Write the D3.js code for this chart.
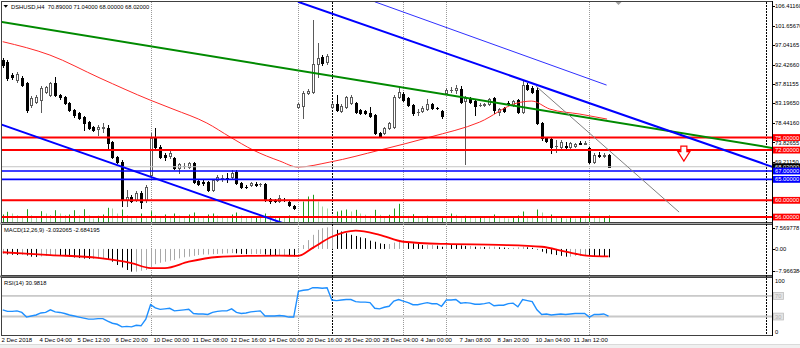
<!DOCTYPE html>
<html><head><meta charset="utf-8">
<script src="https://cdn.jsdelivr.net/npm/d3@7"></script>
<style>
html,body{margin:0;padding:0;background:#fff;overflow:hidden;}
svg{display:block;font-family:"Liberation Sans",Arial,sans-serif;}
</style></head><body>
<svg id="chart" width="800" height="348"></svg>
<script>
// ---------------- DATA ----------------
const symbolTitle = "DSHUSD,H4  70.89000 71.04000 68.00000 68.02000";
const macdTitle = "MACD(12,26,9) -3.032065 -2.684195";
const rsiTitle = "RSI(14) 30.9818";

const opens = [93.51,93.03,89.92,88.73,89.20,88.01,82.76,83.47,83.95,85.86,85.14,88.01,85.14,84.67,83.23,81.56,80.84,79.89,78.69,77.50,77.02,77.38,77.26,73.92,70.33,69.14,60.06,60.78,60.06,61.73,60.06,66.03,75.11,72.72,70.81,70.57,70.09,67.70,68.18,67.94,68.90,64.60,64.36,64.36,62.45,64.84,65.32,65.32,65.55,66.75,64.12,63.29,63.64,63.88,63.88,63.88,60.30,60.06,59.82,60.18,59.58,58.63,82.28,82.52,85.62,85.86,92.55,94.22,93.03,82.28,82.99,81.32,82.28,83.23,83.23,81.56,81.32,80.84,80.37,76.07,76.07,77.26,77.50,84.67,85.38,84.43,82.76,81.08,81.32,81.80,82.99,82.16,81.32,85.62,86.34,86.34,86.58,83.71,84.19,83.71,82.76,82.88,82.99,84.43,81.08,82.04,83.23,82.76,83.95,81.08,87.53,86.82,86.34,78.46,74.87,74.63,72.96,72.72,72.96,72.72,72.96,73.68,73.56,72.48,69.14,70.81,70.69,70.89];
const highs = [93.98,93.51,90.40,90.64,89.68,88.25,84.91,85.14,87.29,87.29,88.25,89.44,85.38,84.91,83.47,81.80,81.08,80.13,78.93,77.74,77.98,78.46,77.98,74.16,70.57,69.62,62.45,61.26,62.21,62.21,63.64,76.07,77.26,73.20,71.29,72.01,70.33,68.90,68.90,69.14,69.14,64.84,64.84,64.60,65.08,66.03,66.03,66.51,67.23,67.23,64.36,63.64,64.36,64.36,64.24,64.12,60.54,60.30,61.26,60.54,60.06,58.87,83.23,86.10,86.58,103.06,97.57,94.70,94.94,83.23,85.14,82.99,84.91,85.14,83.47,81.80,81.56,82.28,80.60,76.30,77.50,78.69,85.14,87.29,85.86,84.67,82.99,81.80,82.52,84.19,83.23,82.28,81.56,86.82,87.06,87.53,87.29,84.91,84.67,83.95,83.23,83.23,84.43,84.67,82.04,82.28,83.71,83.95,84.19,88.73,88.01,87.29,87.06,78.69,75.11,74.87,74.39,74.39,73.92,73.92,73.68,74.16,74.16,72.72,71.29,71.53,71.29,71.04];
const lows = [91.83,88.73,88.97,88.25,87.29,81.08,82.28,83.23,81.08,85.62,84.91,84.91,84.19,82.99,81.32,79.89,79.41,76.78,77.02,76.54,75.59,76.30,72.48,70.09,68.90,58.63,58.63,59.58,59.82,58.15,59.58,65.55,72.48,70.09,69.62,70.09,67.46,66.51,67.70,67.70,64.12,63.64,63.64,62.21,62.21,64.60,64.60,64.36,65.32,63.88,62.93,62.93,63.40,63.40,63.52,59.82,59.35,59.58,59.58,59.82,58.63,57.91,82.04,79.65,85.38,85.62,89.44,92.31,92.55,82.04,81.32,81.08,82.04,82.99,80.84,80.60,80.60,79.89,75.83,75.11,75.83,77.02,77.26,84.43,83.71,82.52,80.37,80.37,81.08,81.56,81.80,81.92,79.65,85.38,85.86,85.62,83.23,68.66,83.23,80.37,82.52,82.64,82.76,80.84,80.37,81.08,82.76,82.52,80.84,80.84,86.34,85.62,78.22,74.39,73.92,71.29,71.53,72.48,72.48,72.48,72.72,73.44,73.44,68.90,68.90,70.33,70.33,68.00];
const closes = [92.31,89.20,89.44,90.16,87.53,81.56,84.43,84.67,86.82,87.06,88.01,85.14,84.67,83.23,81.56,80.37,79.65,78.46,77.26,76.78,77.50,77.50,73.68,70.33,69.14,60.06,60.78,59.82,61.73,59.58,63.17,74.87,72.72,70.33,70.33,71.29,67.70,68.66,68.30,68.90,64.36,63.88,64.24,62.45,64.84,65.55,65.44,65.20,66.51,64.12,63.17,63.17,64.12,63.76,64.00,60.06,59.82,59.94,60.54,60.06,58.87,58.15,82.99,85.62,86.10,92.55,93.98,92.79,94.46,82.99,81.56,82.52,84.67,84.67,81.08,80.84,80.84,80.13,76.07,75.35,77.26,78.46,84.67,85.86,83.95,82.76,80.84,81.20,82.04,82.99,82.04,82.04,80.13,86.34,86.46,86.82,83.47,84.43,83.47,82.52,82.88,82.99,84.19,81.56,81.80,81.32,83.11,83.71,81.08,87.53,86.58,85.86,78.46,74.87,74.16,72.72,73.08,73.92,72.84,73.68,73.44,73.56,73.68,69.14,70.81,70.69,70.89,68.02];
const volumes = [800,1070,900,730,570,1330,730,570,1130,900,730,1230,900,730,800,1230,730,1330,730,400,670,800,1470,1400,900,1300,730,570,570,900,470,1130,730,
 600,800,500,900,700,600,800,1000,600,500,800,900,700,600,500,800,1000,700,600,500,600,500,900,700,500,600,500,700,600,
 500,2100,2600,2770,2100,1600,1400,770,1100,1200,1300,1100,1270,900,770,670,1270,770,600,770,1400,1870,900,670,830,600,430,670,600,430,600,430,900,770,430,670,600,430,600,
 600,500,800,600,500,400,500,700,1100,600,500,1300,1000,600,800,500,600,400,500,400,500,400,900,600,500,600,700];
const macdHist = [-1.8,-2.0,-2.1,-2.2,-2.1,-2.4,-2.8,-2.9,-2.7,-2.5,-2.3,-2.3,-2.4,-2.6,-2.9,-3.1,-3.3,-3.5,-3.6,-3.6,-3.5,-3.4,-3.6,-4.6,-5.8,-6.7,-7.6,-8.2,-8.2,-7.9,-7.6,-6.5,-5.5,-5.0,-4.6,-4.2,-4.0,-3.4,-3.0,-2.8,-2.5,-2.2,-2.0,-2.0,-1.9,-1.8,-1.7,-1.6,-1.5,-1.6,-1.8,-1.9,-1.9,-1.8,-1.8,-2.0,-2.3,-2.4,-2.4,-2.4,-2.5,-2.7,-1.0,1.4,3.2,5.1,6.9,7.5,7.8,8.1,6.9,6.3,5.7,5.1,4.7,4.2,3.9,3.0,2.6,2.0,1.8,1.8,2.3,2.5,2.5,2.3,2.0,1.8,1.4,1.4,1.4,1.2,0.8,1.8,1.7,1.6,1.3,1.1,1.1,0.8,0.8,0.7,0.8,0.8,0.6,0.5,0.2,0.4,0.6,0.8,0.6,0.4,-0.2,-1.0,-1.6,-1.9,-2.2,-2.5,-2.8,-2.8,-2.5,-2.5,-2.2,-2.4,-2.6,-2.7,-2.8,-3.032];
const signalBars = [0,10,20,27,31,34,39,45,52,58,62,65,69,74,79,84,93,104,113,118,123,127];
const signalVals = [-1.2,-2.2,-3.2,-5.1,-6.9,-6.9,-4.6,-2.9,-2.5,-2.4,-2.5,0.4,4.4,6.6,5.1,2.6,1.8,1.5,0.8,-1.0,-2.5,-2.684];
const rsiVals = [43,40,40,41,38,29,31,33,37,38,43,39,38,36,33,31,29,27,25,25,26,26,21,17,15,10,11,10,13,12,25,53,47,44,45,46,41,42,43,44,36,35,35,34,38,40,41,41,45,38,36,37,39,40,41,31,31,31,32,31,29,29,79,81,82,86,86,85,86,62,61,62,63,63,59,58,58,57,46,45,48,50,60,63,60,57,53,53,55,57,55,55,50,62,62,63,56,57,56,54,54,55,57,51,52,52,55,56,49,63,61,59,43,34,35,33,34,35,34,35,36,36,36,29,34,34,35,30.98];
const maBars = [0,9.9,20.4,30.9,35.7,42.8,47.7,52.5,58.1,61.9,68.6,79.1,89.6,100,107.8,110.9,114.7,121,126.7];
const maVals = [97.9,94.70,89.20,83.95,81.80,78.46,75.11,72.01,69.38,67.94,69.14,72.01,75.11,78.69,83.23,83.71,81.80,80.60,79.41];

const levelPrices = [75, 72, 67, 65, 60, 56];
const levelKinds = ["resistance","resistance","support","support","resistance","resistance"];
const bidPrice = 68.02;
const priceTicks = [106.4116,101.6567,97.04165,92.4266,87.81155,83.1965,78.4416,73.82655,69.2115];
const macdTicks = [7.569778, 0, -7.966384];
const rsiTicks = [100, 0];
const rsiLevels = [70, 30];

// trend lines: [bar, price] anchors
const trendGreen = [[-0.57,102.66],[161.5,72.48]];
const trendBlueUpper = [[61.9,107.43],[161.5,67.94]];
const trendBlueThin = [[78.0,107.43],[126.6,87.53]];
const trendBlueLower = [[-0.57,78.22],[62.3,53.13]];
const trendGray = [[111.8,87.29],[141.8,57.19]];
const sellArrow = [142.8, 72.96];

const timeLabelBars = [0,8,16,24,32,40,48,56,64,72,80,88,96,104,112,120];
const timeLabels = ["2 Dec 2018","4 Dec 04:00","5 Dec 12:00","6 Dec 20:00","10 Dec 00:00","11 Dec 08:00","12 Dec 16:00","14 Dec 00:00","20 Dec 16:00","26 Dec 20:00","28 Dec 04:00","4 Jan 00:00","7 Jan 08:00","8 Jan 20:00","10 Jan 04:00","11 Jan 12:00"];
const separatorBars = [31,62,69,84,93,123,160];
const separatorKinds = ["week","week","line","week","week","week","line"];

// ---------------- SCALES ----------------
const svg = d3.select("#chart");
const L = 1.5, R = 772.5;
const x = d3.scaleLinear().domain([0,127]).range([2.7,608.5]);
const yP = d3.scaleLinear().domain([54.7,107.5]).range([222.5,1.5]);
const yV = d3.scaleLinear().domain([0,3000]).range([222.5,192.5]);
const yM = d3.scaleLinear().domain([-7.966384,7.569778]).range([271,228]);
const yR = d3.scaleLinear().domain([0,100]).range([332,280.5]);
const FS = 5.8;
const kindColor = {resistance:"#ff0000", support:"#0000ff"};

const defs = svg.append("defs");
defs.append("clipPath").attr("id","cMain").append("rect").attr("x",2).attr("y",2).attr("width",770).attr("height",220);
defs.append("clipPath").attr("id","cMacd").append("rect").attr("x",2).attr("y",225).attr("width",770).attr("height",50);
defs.append("clipPath").attr("id","cRsi").append("rect").attr("x",2).attr("y",278).attr("width",770).attr("height",57);
defs.append("clipPath").attr("id","cAxis").append("rect").attr("x",773).attr("y",0).attr("width",27).attr("height",348);

svg.append("rect").attr("width",800).attr("height",348).attr("fill","#fff");

// panel frames
svg.append("rect").attr("x",0).attr("y",222.5).attr("width",R).attr("height",2).attr("fill","#a8a8a8");
svg.append("rect").attr("x",0).attr("y",275.5).attr("width",R).attr("height",2).attr("fill","#707070");
[[1.5,222.5],[224.5,275.5],[277.5,335.5]].forEach(([a,b])=>{
  svg.append("rect").attr("x",L).attr("y",a).attr("width",R-L).attr("height",b-a)
    .attr("fill","none").attr("stroke","#404040").attr("stroke-width",1);
});

// separators
separatorBars.forEach((b,i)=>{
  const xx = Math.round(x(b))+0.5;
  const dark = separatorKinds[i]==="line";
  svg.append("line").attr("x1",xx).attr("x2",xx).attr("y1",2).attr("y2",335)
    .attr("stroke",dark?"#000":"#9a9a9a").attr("stroke-width",1)
    .attr("stroke-dasharray",dark?"2,1":"1,1");
});

// ---------------- MAIN PANEL ----------------
const gM = svg.append("g").attr("clip-path","url(#cMain)");
volumes.forEach((v,i)=>{
  const xx = Math.round(x(i))+0.5;
  const up = i===0 || v>volumes[i-1];
  gM.append("line").attr("x1",xx).attr("x2",xx).attr("y1",yV(0)).attr("y2",yV(v))
    .attr("stroke",up?"#1f9a1f":"#9fd89f").attr("stroke-width",1);
});
opens.forEach((o,i)=>{
  const c = closes[i], h = highs[i], l = lows[i];
  const cx = Math.round(x(i))+0.5;
  const bull = c>o;
  const col = bull?"#5a5a5a":"#000";
  gM.append("line").attr("x1",cx).attr("x2",cx).attr("y1",Math.round(yP(h))).attr("y2",Math.round(yP(l))+1)
    .attr("stroke",col).attr("stroke-width",1);
  const yt = Math.round(yP(Math.max(o,c))), yb = Math.round(yP(Math.min(o,c)));
  if (yb-yt < 1) {
    gM.append("line").attr("x1",cx-1.5).attr("x2",cx+1.5).attr("y1",yt+0.5).attr("y2",yt+0.5)
      .attr("stroke",col).attr("stroke-width",1);
  } else if (bull) {
    gM.append("rect").attr("x",cx-1).attr("width",2).attr("y",yt+0.5).attr("height",yb-yt)
      .attr("fill","#fff").attr("stroke",col).attr("stroke-width",1);
  } else {
    gM.append("rect").attr("x",cx-1.5).attr("width",3).attr("y",yt).attr("height",yb-yt+1)
      .attr("fill","#000");
  }
});
gM.append("path").datum(maBars.map((b,i)=>[b,maVals[i]]))
  .attr("d", d3.line().x(d=>x(d[0])).y(d=>yP(d[1])).curve(d3.curveMonotoneX))
  .attr("fill","none").attr("stroke","#ff2a2a").attr("stroke-width",1);
gM.append("line").attr("x1",L).attr("x2",R).attr("y1",yP(bidPrice)).attr("y2",yP(bidPrice))
  .attr("stroke","#c4c4c4").attr("stroke-width",1);
levelPrices.forEach((p,i)=>{
  const k = levelKinds[i];
  gM.append("line").attr("x1",L).attr("x2",R).attr("y1",yP(p)).attr("y2",yP(p))
    .attr("stroke",kindColor[k]).attr("stroke-width",k==="resistance"?2:1.6);
});
const seg = (pts,color,w)=>{
  gM.append("line").attr("x1",x(pts[0][0])).attr("y1",yP(pts[0][1]))
    .attr("x2",x(pts[1][0])).attr("y2",yP(pts[1][1]))
    .attr("stroke",color).attr("stroke-width",w);
};
seg(trendGreen,"#008a00",2);
seg(trendBlueLower,"#0000ff",2);
seg(trendBlueUpper,"#0000ff",2);
seg(trendBlueThin,"#3030ff",1);
seg(trendGray,"#808080",1);
{
  const ax = x(sellArrow[0]), ay = yP(sellArrow[1]);
  const pts = [[-3,0],[3,0],[3,5.5],[6,5.5],[0,15],[-6,5.5],[-3,5.5]];
  gM.append("path").attr("d","M"+pts.map(p=>[ax+p[0],ay+p[1]].join(",")).join("L")+"Z")
    .attr("fill","#fff").attr("stroke","#ff0000").attr("stroke-width",1.2);
}
{
  const sx = Math.round(x(129))+0.5;
  svg.append("path").attr("d",`M${sx-3},2 L${sx+3},2 L${sx},5 Z`).attr("fill","#a0a0a0");
}
svg.append("path").attr("d","M3.5,5 L8,5 L5.75,7.8 Z").attr("fill","#000");
svg.append("text").attr("x",11).attr("y",9).attr("font-size",FS).attr("fill","#000")
  .style("white-space","pre").text(symbolTitle);

// ---------------- MACD ----------------
const gD = svg.append("g").attr("clip-path","url(#cMacd)");
macdHist.forEach((v,i)=>{
  const xx = Math.round(x(i))+0.5;
  const down = i>0 && v<macdHist[i-1];
  gD.append("line").attr("x1",xx).attr("x2",xx).attr("y1",yM(0)).attr("y2",yM(v))
    .attr("stroke",down?"#000":"#a8a8a8").attr("stroke-width",1);
});
gD.append("path").datum(signalBars.map((b,i)=>[b,signalVals[i]]))
  .attr("d", d3.line().x(d=>x(d[0])).y(d=>yM(d[1])).curve(d3.curveMonotoneX))
  .attr("fill","none").attr("stroke","#ff0000").attr("stroke-width",1.8);
svg.append("text").attr("x",4).attr("y",232).attr("font-size",FS).attr("fill","#000").text(macdTitle);

// ---------------- RSI ----------------
const gR = svg.append("g").attr("clip-path","url(#cRsi)");
rsiLevels.forEach((lv,i)=>{
  gR.append("line").attr("x1",L).attr("x2",R).attr("y1",yR(lv)).attr("y2",yR(lv))
    .attr("stroke",i===0?"#a0a0a0":"#c8c8c8").attr("stroke-width",i===0?1:2);
});
gR.append("path").datum(rsiVals)
  .attr("d", d3.line().x((d,i)=>x(i)).y(d=>yR(d)))
  .attr("fill","none").attr("stroke","#1e8fff").attr("stroke-width",1.4);
svg.append("text").attr("x",4).attr("y",285).attr("font-size",FS).attr("fill","#000").text(rsiTitle);

// ---------------- RIGHT AXIS ----------------
svg.append("line").attr("x1",R).attr("x2",R).attr("y1",1).attr("y2",336).attr("stroke","#000");
const gA = svg.append("g").attr("clip-path","url(#cAxis)");
const fmt5 = d3.format(".5f");
priceTicks.forEach(p=>{
  const yy = yP(p);
  svg.append("line").attr("x1",R).attr("x2",R+2.5).attr("y1",Math.round(yy)+0.5).attr("y2",Math.round(yy)+0.5).attr("stroke","#000");
  gA.append("text").attr("x",775).attr("y",yy+2.1).attr("font-size",FS).attr("fill","#000").text(fmt5(p));
});
const box = (p,fill,txt)=>{
  const yy = yP(p);
  gA.append("rect").attr("x",773).attr("y",yy-3.4).attr("width",27).attr("height",6.8).attr("fill",fill);
  gA.append("text").attr("x",775).attr("y",yy+2.1).attr("font-size",FS).attr("fill","#fff").text(txt);
};
box(levelPrices[0],kindColor[levelKinds[0]],fmt5(levelPrices[0]));
box(levelPrices[1],kindColor[levelKinds[1]],fmt5(levelPrices[1]));
box(bidPrice,"#000",fmt5(bidPrice));
[2,3,4,5].forEach(i=>box(levelPrices[i],kindColor[levelKinds[i]],fmt5(levelPrices[i])));

macdTicks.forEach(v=>{
  const yy = yM(v);
  svg.append("line").attr("x1",R).attr("x2",R+2.5).attr("y1",Math.round(yy)+0.5).attr("y2",Math.round(yy)+0.5).attr("stroke","#000");
  gA.append("text").attr("x",775).attr("y",yy+2.1).attr("font-size",FS).attr("fill","#000")
    .text(v===0?"0.00":d3.format(".6f")(v));
});
rsiTicks.forEach(v=>{
  const yy = yR(v);
  gA.append("text").attr("x",775).attr("y",yy+2.1).attr("font-size",FS).attr("fill","#000").text(v);
});
rsiLevels.forEach(v=>{
  const yy = yR(v);
  gA.append("rect").attr("x",773.5).attr("y",yy-3.4).attr("width",10).attr("height",6.8)
    .attr("fill","#e4e4e4").attr("stroke","#bdbdbd").attr("stroke-width",0.8);
  gA.append("text").attr("x",775).attr("y",yy+2.1).attr("font-size",FS).attr("fill","#b0b0b0").text(v);
});

// ---------------- TIME AXIS ----------------
timeLabelBars.forEach((b,i)=>{
  svg.append("text").attr("x",Math.round(x(b))-1.5).attr("y",342).attr("font-size",6)
    .attr("fill","#000").text(timeLabels[i]);
});
svg.append("rect").attr("x",0).attr("y",344.5).attr("width",800).attr("height",4).attr("fill","#f0f0f0");
svg.append("line").attr("x1",0).attr("x2",800).attr("y1",344.5).attr("y2",344.5).attr("stroke","#dadada");
</script>
</body></html>
